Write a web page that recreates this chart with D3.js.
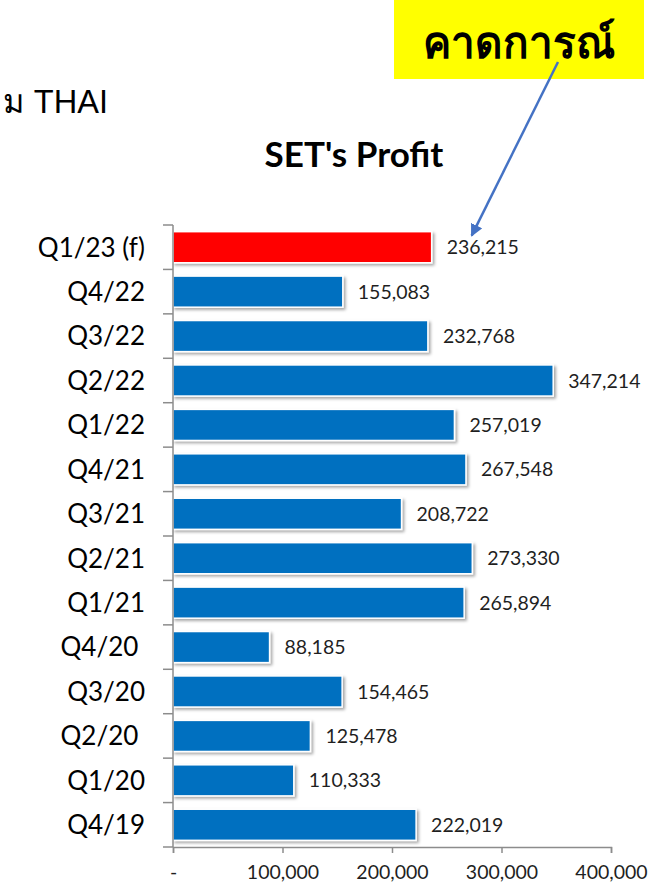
<!DOCTYPE html>
<html>
<head>
<meta charset="utf-8">
<script src="https://cdn.jsdelivr.net/npm/d3@7"></script>
<style>
  body { margin: 0; background: #fff; }
  svg { display: block; }
</style>
</head>
<body>
<div id="chart"></div>
<script>
// quarters, top to bottom as drawn
var quarters = ["Q1/23 (f)", "Q4/22", "Q3/22", "Q2/22", "Q1/22", "Q4/21", "Q3/21",
                "Q2/21", "Q1/21", "Q4/20 ", "Q3/20", "Q2/20 ", "Q1/20", "Q4/19"];
var profits = [236215, 155083, 232768, 347214, 257019, 267548, 208722,
               273330, 265894, 88185, 154465, 125478, 110333, 222019];
var forecastQuarters = ["Q1/23 (f)"];
var xTicks = [0, 100000, 200000, 300000, 400000];

var chartTitle = "SET's Profit";
var calloutText = "คาดการณ์";
var cornerText = "ม THAI";

var width = 669, height = 886;
var margin = {top: 225, right: 58, bottom: 39, left: 173};

var svg = d3.select("#chart").append("svg")
    .attr("width", width)
    .attr("height", height);

// soft shadow under bars
var defs = svg.append("defs");
var shadow = defs.append("filter").attr("id", "shadow")
    .attr("x", "-10%").attr("y", "-30%").attr("width", "130%").attr("height", "180%");
shadow.append("feDropShadow")
    .attr("dx", 2).attr("dy", 2).attr("stdDeviation", 1.5)
    .attr("flood-color", "#000").attr("flood-opacity", 0.35);

defs.append("marker").attr("id", "arrow")
    .attr("viewBox", "0 0 10 10").attr("refX", 9).attr("refY", 5)
    .attr("markerWidth", 5).attr("markerHeight", 5)
    .attr("orient", "auto")
  .append("path").attr("d", "M0,0L10,5L0,10z").attr("fill", "#4472C4");

var x = d3.scaleLinear()
    .domain([0, 400000])
    .range([margin.left, width - margin.right]);

var y = d3.scaleBand()
    .domain(quarters)
    .range([margin.top, height - margin.bottom])
    .paddingInner(0.3)
    .paddingOuter(0.15);

var rows = quarters.map(function(q, i) { return {q: q, v: profits[i]}; });

// bars
svg.append("g").selectAll("rect")
    .data(rows)
  .enter().append("rect")
    .attr("x", x(0))
    .attr("y", function(d) { return y(d.q); })
    .attr("width", function(d) { return x(d.v) - x(0); })
    .attr("height", y.bandwidth())
    .attr("fill", function(d) { return forecastQuarters.indexOf(d.q) >= 0 ? "#FF0000" : "#0070C0"; })
    .attr("stroke", "#fff")
    .attr("stroke-width", 1.5)
    .attr("filter", "url(#shadow)");

// value labels
svg.append("g").selectAll("text")
    .data(rows)
  .enter().append("text")
    .attr("x", function(d) { return x(d.v) + 15; })
    .attr("y", function(d) { return y(d.q) + y.bandwidth() / 2; })
    .attr("dy", "0.36em")
    .style("font-family", "Lato")
    .style("font-size", "19.5px")
    .style("fill", "#1f1f1f")
    .text(function(d) { return d3.format(",")(d.v); });

// y axis with ticks on band boundaries
var yAxisG = svg.append("g");
var bounds = quarters.map(function(q) { return y(q) - y.step() * y.paddingInner() / 2; });
bounds.push(height - margin.bottom);
bounds[0] = margin.top;
yAxisG.append("line")
    .attr("x1", x(0)).attr("x2", x(0))
    .attr("y1", margin.top).attr("y2", height - margin.bottom)
    .attr("stroke", "#8c8c8c").attr("stroke-width", 1.5);
yAxisG.selectAll("line.tick")
    .data(bounds)
  .enter().append("line")
    .attr("class", "tick")
    .attr("x1", x(0) - 10).attr("x2", x(0))
    .attr("y1", function(d) { return d; }).attr("y2", function(d) { return d; })
    .attr("stroke", "#8c8c8c").attr("stroke-width", 1.5);
yAxisG.selectAll("text")
    .data(quarters)
  .enter().append("text")
    .attr("x", x(0) - 28)
    .attr("y", function(d) { return y(d) + y.bandwidth() / 2; })
    .attr("dy", "0.36em")
    .attr("text-anchor", "end")
    .style("white-space", "pre")
    .style("font-family", "Lato")
    .style("font-size", "26px")
    .style("fill", "#000")
    .text(function(d) { return d; });

// x axis
var xAxis = d3.axisBottom(x)
    .tickValues(xTicks)
    .tickSize(6)
    .tickPadding(12)
    .tickFormat(function(d) { return d === 0 ? "-" : d3.format(",")(d); });
var xAxisG = svg.append("g")
    .attr("transform", "translate(0," + (height - margin.bottom) + ")")
    .call(xAxis);
xAxisG.select(".domain").attr("stroke", "#8c8c8c").attr("stroke-width", 1.5);
xAxisG.selectAll(".tick line").attr("stroke", "#8c8c8c").attr("stroke-width", 1.5);
xAxisG.selectAll(".tick text")
    .style("font-family", "Lato")
    .style("font-size", "19.5px")
    .style("fill", "#1f1f1f");

// title
svg.append("text")
    .attr("x", 354).attr("y", 167)
    .attr("text-anchor", "middle")
    .style("font-family", "Lato")
    .style("font-weight", "bold")
    .style("font-size", "35px")
    .text(chartTitle);

// corner text
svg.append("text")
    .attr("x", 3).attr("y", 113)
    .attr("textLength", 105)
    .attr("lengthAdjust", "spacingAndGlyphs")
    .style("font-family", "Liberation Sans")
    .style("font-size", "33px")
    .text(cornerText);

// callout box + arrow
svg.append("rect")
    .attr("x", 394).attr("y", 0)
    .attr("width", 250).attr("height", 79)
    .attr("fill", "#FFFF00");
svg.append("text")
    .attr("x", 519).attr("y", 58)
    .attr("text-anchor", "middle")
    .attr("textLength", 192)
    .attr("lengthAdjust", "spacingAndGlyphs")
    .style("font-weight", "bold")
    .style("font-size", "44px")
    .text(calloutText);
svg.append("line")
    .attr("x1", 558).attr("y1", 62)
    .attr("x2", x(profits[0]) + 40).attr("y2", y(quarters[0]) + 4)
    .attr("stroke", "#4472C4")
    .attr("stroke-width", 2.5)
    .attr("marker-end", "url(#arrow)");
</script>
</body>
</html>
